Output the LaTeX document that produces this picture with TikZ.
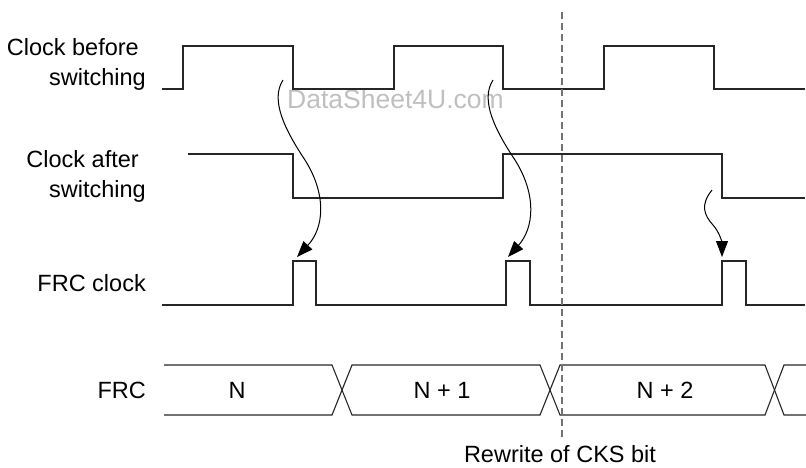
\documentclass[tikz,border=0pt]{standalone}
\usepackage{fontspec}
\setmainfont{Liberation Sans}
\usetikzlibrary{arrows.meta}
\begin{document}
\begin{tikzpicture}[x=1pt,y=-1pt,
  sig/.style={line width=1.1pt,draw=black!85,line join=miter},
  lbl/.style={font=\fontsize{23.5}{28}\selectfont,inner sep=0pt},
  causal/.style={line width=1pt,-{Triangle[length=16pt,width=12pt]}},
  cks/.style={draw=black!55,line width=1.1pt,dash pattern=on 7pt off 4pt}]
\useasboundingbox (0,0) rectangle (806,467);
% labels
\node[lbl,anchor=base east] (lb1) at (139,55) {Clock before};
\node[lbl,anchor=base east] (lb2) at (146,85) {switching};
\node[lbl,anchor=base east] (la1) at (139,167) {Clock after};
\node[lbl,anchor=base east] (la2) at (146,197) {switching};
\node[lbl,anchor=base east] (lfc) at (146,291) {FRC clock};
\node[lbl,anchor=base east] (lfrc) at (146,398) {FRC};
% watermark
\node[font=\fontsize{26.5}{30}\selectfont,text=black!25,anchor=base west,inner sep=0pt] (wm) at (287,108) {DataSheet4U.com};
% clock before switching
\draw[sig] (162,89) -- (183,89) -- (183,46) -- (293,46) -- (293,89) -- (394,89) -- (394,46) -- (503,46) -- (503,89) -- (604,89) -- (604,46) -- (714,46) -- (714,89) -- (805,89);
% clock after switching
\draw[sig] (188,154) -- (293,154) -- (293,198) -- (503,198) -- (503,154) -- (722,154) -- (722,198) -- (805,198);
% FRC clock
\draw[sig] (162,305) -- (293,305) -- (293,261) -- (316,261) -- (316,305) -- (506,305) -- (506,261) -- (530,261) -- (530,305) -- (722,305) -- (722,261) -- (746,261) -- (746,305) -- (805,305);
% FRC bus
\draw[sig] (164,365) -- (332,365) -- (352,415) -- (540,415) -- (560,365) -- (765,365) -- (784,415) -- (806,415);
\draw[sig] (164,415) -- (332,415) -- (352,365) -- (540,365) -- (560,415) -- (765,415) -- (784,365) -- (806,365);
\node[lbl] (n0) at (237,390) {N};
\node[lbl] (n1) at (442,390) {N + 1};
\node[lbl] (n2) at (665,390) {N + 2};
% CKS rewrite marker
\coordinate (ckstop) at (562,12);
\coordinate (cksbot) at (562,438);
\draw[cks] (ckstop) -- (cksbot);
\node[lbl,anchor=base] (cks) at (560,462) {Rewrite of CKS bit};
% causal arrows
\coordinate (a1s) at (283,80);
\coordinate (a1e) at (297,257);
\coordinate (a2s) at (493,80);
\coordinate (a2e) at (508,257);
\coordinate (a3s) at (712,190);
\coordinate (a3e) at (722,257);
\draw[causal] (a1s) .. controls (270,100) and (285,130) .. (305,160) .. controls (327,195) and (324,228) .. (a1e);
\draw[causal] (a2s) .. controls (480,100) and (495,130) .. (515,160) .. controls (537,195) and (534,228) .. (a2e);
\draw[causal] (a3s) .. controls (700,205) and (704,215) .. (713,225) .. controls (720,233) and (722,243) .. (a3e);
\end{tikzpicture}
\end{document}
